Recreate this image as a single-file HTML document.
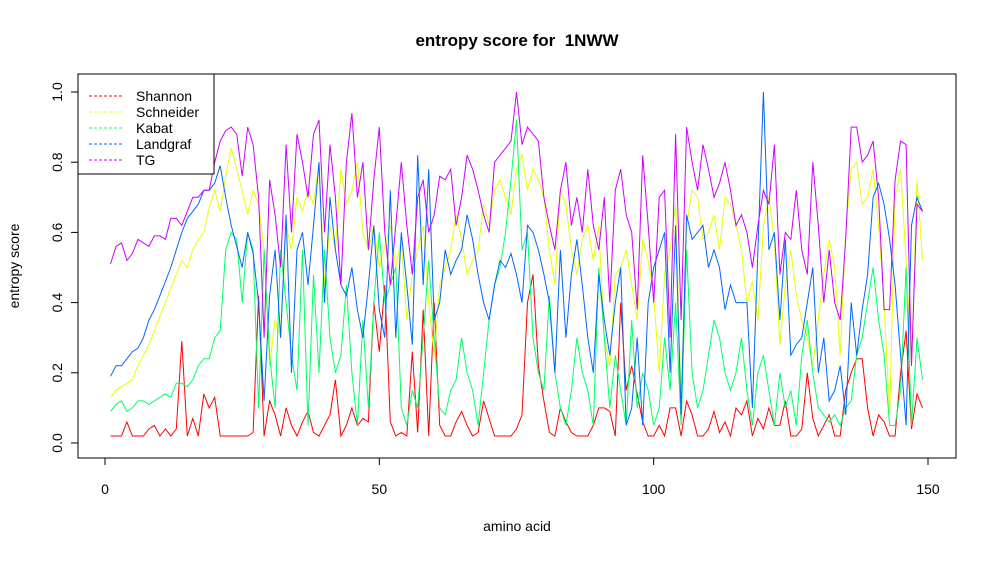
<!DOCTYPE html>
<html><head><meta charset="utf-8"><style>
body{margin:0;background:#fff}
svg text{font-family:"Liberation Sans",Arial,sans-serif}
</style></head><body>
<svg id="c" width="996" height="556">
<rect width="996" height="556" fill="#fff"/>
<text x="517" y="46" text-anchor="middle" font-size="17" font-weight="bold" xml:space="preserve">entropy score for &#160;1NWW</text>
<text x="517" y="531" text-anchor="middle" font-size="14">amino acid</text>
<text transform="translate(19,266) rotate(-90)" text-anchor="middle" font-size="14">entropy score</text>
<rect x="78" y="74" width="878" height="384" fill="none" stroke="#000"/>
<g id="axes"></g>
<g id="series"></g>
<g id="legend"></g>
</svg>
<script>
const xTicks=[0,50,100,150];
const yTicks=[0.0,0.2,0.4,0.6,0.8,1.0];
const seriesNames=["Shannon","Schneider","Kabat","Landgraf","TG"];
const seriesColors=["#ff0000","#e6ff00","#00ff66","#0066ff","#cc00ff"];
const shannon=[.02,.02,.02,.06,.02,.02,.02,.04,.05,.02,.04,.02,.04,.29,.02,.07,.02,.14,.10,.13,.02,.02,.02,.02,.02,.02,.03,.42,.02,.12,.08,.02,.10,.05,.02,.06,.09,.03,.02,.05,.08,.18,.02,.05,.10,.05,.07,.06,.40,.26,.45,.06,.02,.03,.02,.26,.03,.38,.02,.40,.05,.02,.02,.06,.09,.05,.02,.03,.12,.07,.02,.02,.02,.02,.04,.08,.40,.48,.22,.12,.03,.02,.10,.06,.03,.02,.02,.02,.05,.10,.10,.09,.02,.40,.15,.22,.14,.06,.02,.02,.05,.02,.10,.10,.02,.12,.08,.02,.02,.04,.09,.03,.06,.02,.10,.08,.12,.02,.07,.04,.10,.05,.05,.12,.02,.02,.04,.20,.07,.02,.05,.08,.02,.02,.15,.20,.24,.24,.10,.02,.08,.06,.02,.02,.20,.32,.04,.14,.10];
const schneider=[.13,.15,.16,.17,.18,.22,.25,.28,.32,.36,.40,.44,.48,.52,.50,.55,.58,.60,.67,.72,.66,.76,.84,.78,.72,.65,.72,.68,.55,.22,.35,.30,.62,.55,.70,.66,.72,.68,.80,.45,.62,.55,.78,.68,.72,.80,.60,.55,.62,.50,.56,.62,.50,.58,.35,.48,.55,.62,.40,.25,.45,.50,.55,.65,.58,.48,.52,.55,.68,.62,.72,.75,.70,.65,.78,.82,.72,.78,.75,.70,.55,.45,.72,.68,.55,.48,.58,.62,.52,.62,.30,.22,.48,.50,.55,.45,.35,.58,.52,.42,.20,.48,.55,.68,.12,.62,.72,.70,.58,.60,.65,.55,.70,.68,.62,.55,.40,.46,.35,.62,.70,.58,.28,.45,.55,.42,.35,.30,.22,.35,.48,.58,.50,.25,.60,.78,.80,.68,.70,.78,.62,.40,.08,.70,.78,.52,.22,.75,.52];
const kabat=[.09,.11,.12,.09,.10,.12,.12,.11,.12,.13,.14,.13,.17,.17,.16,.18,.22,.24,.24,.30,.32,.55,.60,.58,.40,.60,.55,.10,.55,.25,.10,.55,.40,.25,.15,.55,.05,.48,.20,.55,.30,.20,.25,.45,.20,.05,.35,.10,.40,.60,.40,.45,.50,.10,.05,.15,.10,.30,.52,.30,.10,.08,.15,.18,.30,.20,.15,.05,.20,.35,.45,.50,.60,.75,.92,.55,.60,.30,.20,.15,.42,.20,.10,.05,.15,.30,.20,.15,.05,.50,.30,.10,.25,.15,.05,.35,.10,.20,.15,.05,.10,.30,.15,.40,.05,.55,.20,.10,.15,.25,.35,.30,.20,.15,.20,.30,.15,.05,.20,.25,.15,.05,.20,.10,.15,.05,.25,.35,.20,.10,.08,.06,.08,.05,.10,.12,.25,.30,.40,.50,.35,.25,.05,.05,.15,.50,.05,.30,.18];
const landgraf=[.19,.22,.22,.24,.26,.27,.30,.35,.38,.42,.46,.50,.55,.60,.64,.66,.68,.72,.72,.74,.79,.70,.62,.56,.50,.60,.54,.40,.12,.42,.55,.30,.65,.20,.55,.60,.45,.62,.80,.40,.70,.55,.45,.42,.50,.38,.30,.45,.62,.38,.30,.72,.30,.60,.45,.28,.82,.45,.78,.35,.40,.55,.48,.52,.55,.65,.58,.48,.40,.35,.45,.52,.50,.54,.48,.40,.62,.60,.55,.48,.40,.20,.55,.30,.48,.58,.45,.30,.20,.48,.35,.25,.40,.50,.05,.10,.30,.05,.40,.50,.55,.60,.20,.62,.08,.65,.58,.60,.62,.50,.55,.50,.38,.45,.40,.40,.40,.10,.55,1.0,.55,.60,.35,.58,.25,.28,.30,.40,.50,.20,.30,.12,.15,.22,.08,.40,.25,.38,.48,.70,.74,.68,.58,.45,.25,.05,.62,.70,.66];
const tg=[.51,.56,.57,.52,.54,.58,.57,.56,.59,.59,.58,.64,.64,.62,.66,.70,.70,.72,.72,.80,.86,.89,.90,.88,.76,.90,.85,.70,.30,.75,.65,.50,.85,.60,.88,.80,.70,.88,.92,.60,.85,.70,.45,.80,.94,.70,.80,.55,.75,.90,.60,.45,.62,.80,.62,.48,.70,.75,.60,.65,.76,.75,.78,.62,.70,.82,.78,.72,.65,.60,.80,.82,.84,.86,1.0,.85,.90,.88,.86,.70,.62,.55,.72,.80,.62,.70,.60,.78,.62,.55,.70,.40,.72,.78,.65,.60,.38,.82,.62,.40,.70,.72,.30,.88,.35,.90,.80,.72,.85,.78,.70,.74,.80,.72,.62,.65,.60,.50,.62,.72,.68,.85,.48,.60,.58,.72,.55,.48,.80,.62,.40,.55,.40,.35,.58,.90,.90,.80,.82,.86,.70,.38,.38,.75,.86,.85,.22,.68,.66];
const allSeries=[shannon,schneider,kabat,landgraf,tg];
const NS="http://www.w3.org/2000/svg";
function xs(v){return 105+v*(928-105)/150;}
function ys(v){return 443-v*351;}
function mk(t,a,p){const e=document.createElementNS(NS,t);for(const k in a)e.setAttribute(k,a[k]);p.appendChild(e);return e;}
const axes=document.getElementById('axes');
mk('line',{x1:xs(0),x2:xs(150),y1:458,y2:458,stroke:'#000'},axes);
xTicks.forEach(t=>{
  const l=mk('line',{x1:xs(t),x2:xs(t),y1:458,y2:465,stroke:'#000'},axes);
  
  
  const tx=mk('text',{x:xs(t),y:494,'text-anchor':'middle','font-size':14},axes);
  tx.textContent=String(t);
  
  
});
mk('line',{x1:78,x2:78,y1:ys(0),y2:ys(1),stroke:'#000'},axes);
yTicks.forEach(t=>{
  const l=mk('line',{x1:71,x2:78,y1:ys(t),y2:ys(t),stroke:'#000'},axes);
  
  
  const tx=mk('text',{transform:`translate(62,${ys(t)}) rotate(-90)`,'text-anchor':'middle','font-size':14},axes);
  tx.textContent=t.toFixed(1);
  
  
});
const sg=document.getElementById('series');
allSeries.forEach((arr,i)=>{
  const pts=arr.map((v,j)=>xs(j+1).toFixed(1)+','+ys(v).toFixed(1)).join(' ');
  const pl=mk('polyline',{points:pts,fill:'none',stroke:seriesColors[i],'stroke-width':1},sg);
  
  
});
const lg=document.getElementById('legend');
const box=mk('rect',{x:78,y:74,width:136,height:100,fill:'#fff',stroke:'#000'},lg);


seriesNames.forEach((n,i)=>{
  const y=96+i*16;
  const l=mk('line',{x1:89,x2:123,y1:y,y2:y,stroke:seriesColors[i],'stroke-dasharray':'3,2'},lg);
  
  
  const t=mk('text',{x:136,y:y+5,'font-size':14},lg);
  t.textContent=n;
  
  
});
</script>
</body></html>
